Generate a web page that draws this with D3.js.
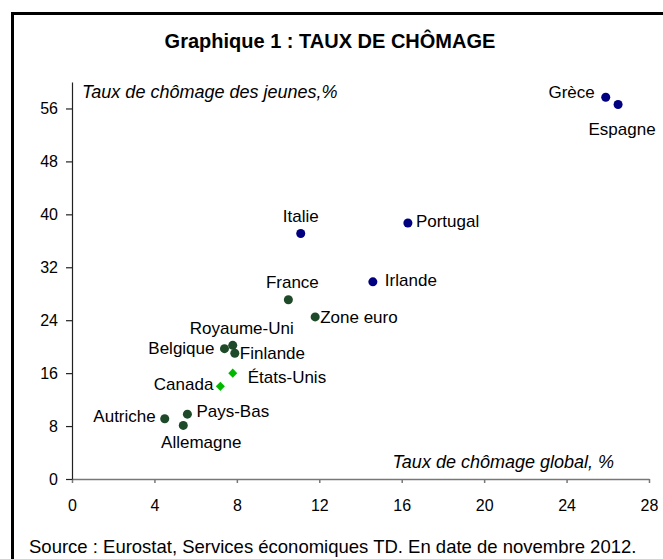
<!DOCTYPE html>
<html>
<head>
<meta charset="utf-8">
<script src="https://d3js.org/d3.v7.min.js"></script>
<style>
  body { margin: 0; background: #fff; }
  svg text { font-family: "Liberation Sans", Arial, sans-serif; }
</style>
</head>
<body>
<div id="chart"></div>
<script>
// data: global rate (x) vs youth rate (y)
var countries = ["Grèce", "Espagne", "Italie", "Portugal", "Irlande", "France", "Zone euro",
  "Royaume-Uni", "Belgique", "Finlande", "États-Unis", "Canada", "Autriche", "Pays-Bas", "Allemagne"];
var globalRate = [25.9, 26.5, 11.1, 16.3, 14.6, 10.5, 11.8, 7.8, 7.4, 7.9, 7.8, 7.2, 4.5, 5.6, 5.4];
var youthRate  = [57.7, 56.6, 37.1, 38.7, 29.8, 27.1, 24.5, 20.2, 19.7, 19.0, 16.0, 14.0, 9.1, 9.8, 8.1];
var group      = ["sud", "sud", "sud", "sud", "sud", "eu", "eu", "eu", "eu", "eu", "na", "na", "eu", "eu", "eu"];
var xTicks = [0, 4, 8, 12, 16, 20, 24, 28];
var yTicks = [0, 8, 16, 24, 32, 40, 48, 56];

var color = { sud: "#000080", eu: "#1e4a2a", na: "#00b800" };

// where each label goes relative to its marker
var labelPlace = {
  "Grèce":       { dx: -11, dy: 1,   anchor: "end" },
  "Espagne":     { dx: 4,   dy: 31,  anchor: "middle" },
  "Italie":      { dx: 0,   dy: -12, anchor: "middle" },
  "Portugal":    { dx: 8,   dy: 4,   anchor: "start" },
  "Irlande":     { dx: 12,  dy: 4,   anchor: "start" },
  "France":      { dx: 4,   dy: -12, anchor: "middle" },
  "Zone euro":   { dx: 5,   dy: 6,   anchor: "start" },
  "Royaume-Uni": { dx: 9,   dy: -11, anchor: "middle" },
  "Belgique":    { dx: -10, dy: 5,   anchor: "end" },
  "Finlande":    { dx: 5,   dy: 6,   anchor: "start" },
  "États-Unis":  { dx: 15,  dy: 10,  anchor: "start" },
  "Canada":      { dx: -7,  dy: 4,   anchor: "end" },
  "Autriche":    { dx: -9,  dy: 3,   anchor: "end" },
  "Pays-Bas":    { dx: 9,   dy: 3,   anchor: "start" },
  "Allemagne":   { dx: 18,  dy: 23,  anchor: "middle" }
};

var W = 663, H = 559;
var margin = { top: 82, right: 14, bottom: 80, left: 72 },
  width = 649 - margin.left,
  height = 479 - margin.top;

var svg = d3.select("#chart").append("svg")
  .attr("width", W)
  .attr("height", H);

// outer frame (runs past the right and bottom edges)
svg.append("rect")
  .attr("x", 12.5).attr("y", 13.5)
  .attr("width", W + 20).attr("height", H + 20)
  .attr("fill", "none")
  .attr("stroke", "#000")
  .attr("stroke-width", 3);

svg.append("text")
  .attr("x", 330).attr("y", 48)
  .attr("text-anchor", "middle")
  .attr("font-size", "20px")
  .attr("font-weight", "bold")
  .text("Graphique 1 : TAUX DE CHÔMAGE");

var g = svg.append("g")
  .attr("transform", "translate(" + margin.left + "," + margin.top + ")");

var x = d3.scaleLinear().domain([0, 28]).range([0, width]);
var y = d3.scaleLinear().domain([0, 60]).range([height, 0]);

var xAxis = g.append("g")
  .attr("transform", "translate(0," + height + ")")
  .call(d3.axisBottom(x).tickValues(xTicks).tickSize(4).tickSizeOuter(0).tickPadding(17));
var yAxis = g.append("g")
  .call(d3.axisLeft(y).tickValues(yTicks).tickSize(6).tickSizeOuter(0).tickPadding(8));

xAxis.select(".domain").attr("stroke", "#777").attr("stroke-width", 1.5);
xAxis.selectAll(".tick line").attr("stroke", "#777").attr("stroke-width", 1.5);
yAxis.select(".domain").attr("stroke", "#222").attr("stroke-width", 1.2);
yAxis.selectAll(".tick line").attr("stroke", "#222").attr("stroke-width", 1.2);
[xAxis, yAxis].forEach(function(a) {
  a.selectAll(".tick text")
    .attr("font-size", "16px")
    .attr("font-family", "Liberation Sans, Arial, sans-serif")
    .attr("fill", "#000");
});

// axis titles
g.append("text")
  .attr("x", 10).attr("y", 98 - margin.top)
  .attr("font-size", "18px")
  .attr("font-style", "italic")
  .text("Taux de chômage des jeunes,%");
g.append("text")
  .attr("x", 614 - margin.left).attr("y", 468 - margin.top)
  .attr("text-anchor", "end")
  .attr("font-size", "18px")
  .attr("font-style", "italic")
  .text("Taux de chômage global, %");

var rows = countries.map(function(c, i) {
  return { name: c, gx: globalRate[i], yx: youthRate[i], grp: group[i] };
});

// markers
g.selectAll(".pt")
  .data(rows)
  .enter()
  .append("path")
  .attr("class", "pt")
  .attr("transform", function(d) { return "translate(" + x(d.gx) + "," + y(d.yx) + ")"; })
  .attr("d", function(d) {
    return d.grp == "na"
      ? d3.symbol().type(d3.symbolDiamond2).size(52)()
      : d3.symbol().type(d3.symbolCircle).size(64)();
  })
  .attr("fill", function(d) { return color[d.grp]; });

// labels
g.selectAll(".lbl")
  .data(rows)
  .enter()
  .append("text")
  .attr("class", "lbl")
  .attr("x", function(d) { return x(d.gx) + labelPlace[d.name].dx; })
  .attr("y", function(d) { return y(d.yx) + labelPlace[d.name].dy; })
  .attr("text-anchor", function(d) { return labelPlace[d.name].anchor; })
  .attr("font-size", "17px")
  .text(function(d) { return d.name; });

svg.append("text")
  .attr("x", 29).attr("y", 553)
  .attr("font-size", "18.5px")
  .text("Source : Eurostat, Services économiques TD. En date de novembre 2012.");
</script>
</body>
</html>
